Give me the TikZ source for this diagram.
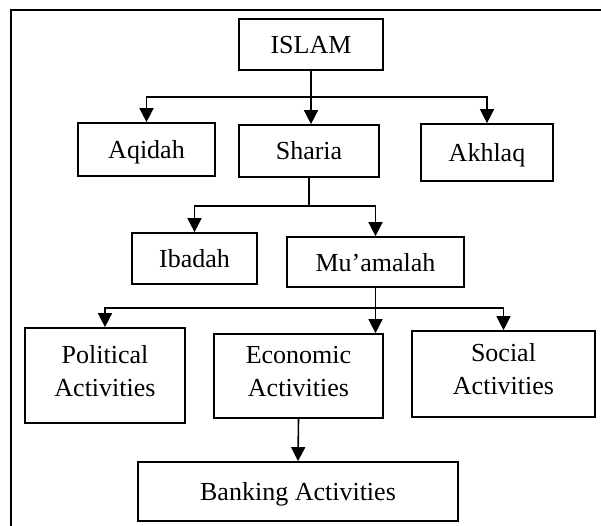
\documentclass[tikz,border=0pt]{standalone}
\usepackage{fontspec}
\setmainfont{Liberation Serif}
\usetikzlibrary{arrows.meta}
\begin{document}
\begin{tikzpicture}[x=1pt,y=-1pt,
  box/.style={draw, line width=1.7pt, rectangle, inner sep=0pt, align=center,
    font=\fontsize{26}{33}\selectfont},
  onebox/.style={box, text height=18pt, text depth=0pt},
  link/.style={line width=1.6pt},
  arr/.style={link, -{Triangle[width=14pt,length=14pt]}}]
\useasboundingbox (0,0) rectangle (601,526);
% outer frame (left and top edges)
\draw[line width=1.7pt] (11,526) -- (11,10) -- (601,10);

% level 0
\node[onebox, minimum width=144pt, minimum height=51pt] (islam) at (311,44.5) {ISLAM};
% level 1
\node[onebox, minimum width=137pt, minimum height=53pt] (aqidah) at (146.5,149.5) {Aqidah};
\node[onebox, minimum width=140pt, minimum height=52pt] (sharia) at (309,151) {Sharia};
\node[onebox, minimum width=132pt, minimum height=57pt] (akhlaq) at (487,152.5) {Akhlaq};
% level 2
\node[onebox, minimum width=125pt, minimum height=51pt] (ibadah) at (194.5,258.5) {Ibadah};
\node[onebox, minimum width=177pt, minimum height=50pt] (muamalah) at (375.5,262) {Mu’amalah};
% level 3
\node[box, minimum width=160pt, minimum height=95pt] (political) at (105,375.5) {Political\\Activities\strut};
\node[box, minimum width=169pt, minimum height=84pt] (economic) at (298.5,376) {Economic\\Activities\strut};
\node[box, minimum width=183pt, minimum height=86pt] (social) at (503.5,374) {Social\\Activities\strut};
% level 4
\node[onebox, minimum width=320pt, minimum height=59pt] (banking) at (298,491.5) {Banking Activities};

% branch points
\coordinate (b1) at (311,97);
\coordinate (b2) at (309,206);
\coordinate (b3) at (376,308);

% ISLAM -> Aqidah / Sharia / Akhlaq
\draw[arr] (islam.south) -- (islam.south |- sharia.north);
\draw[arr] (b1) -| (aqidah.north);
\draw[arr] (b1) -| (akhlaq.north);

% Sharia -> Ibadah / Mu'amalah
\draw[link] (sharia.south) -- (b2);
\draw[arr] (b2) -| (ibadah.north);
\draw[arr] (b2) -| (muamalah.north);

% Mu'amalah -> activities
\draw[arr] (muamalah.south) -- (muamalah.south |- economic.north);
\draw[arr] (b3) -| (political.north);
\draw[arr] (b3) -| (social.north);

% Economic -> Banking
\draw[arr] (economic.south) -- (banking.north);
\end{tikzpicture}
\end{document}
